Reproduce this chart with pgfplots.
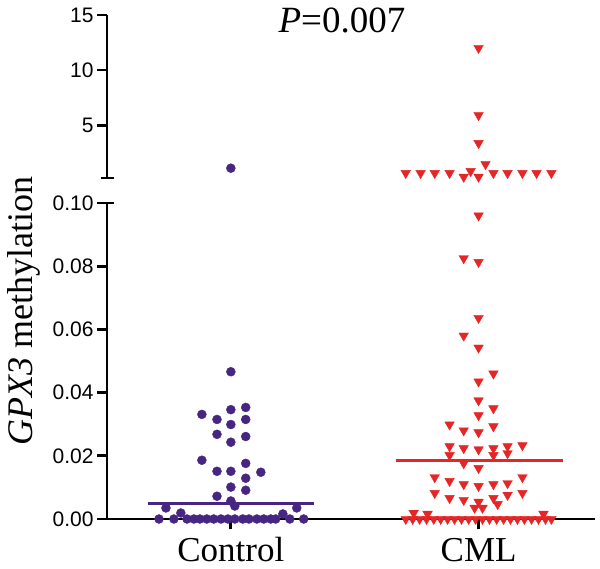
\documentclass[border=0pt]{standalone}
\usepackage{fontspec}
\setmainfont{Liberation Serif}
\newfontfamily\arial{Liberation Sans}
\usepackage{pgfplots}
\pgfplotsset{compat=1.18}
\definecolor{cpurple}{RGB}{70,38,130}
\definecolor{cred}{RGB}{228,38,38}
\pgfplotsset{brk/.style={
  scale only axis, width=488pt, xmin=0.5, xmax=2.47, clip=false,
  axis line style={draw=none},
  tick style={line width=2.8pt, black},
  major tick length=10pt,
  tick align=outside, ytick pos=left, xtick pos=bottom,
  minor tick num=0,
  yticklabel style={font=\arial\fontsize{21}{24}\selectfont, anchor=east},
  /pgf/number format/assume math mode=true,
  scaled y ticks=false,
}}
\pgfplotstableread{
x y
0.710 0
0.770 0
0.823 0
0.851 0
0.875 0
0.903 0
0.931 0
0.960 0
0.988 0
1.016 0
1.048 0
1.073 0
1.105 0
1.133 0
1.161 0
1.181 0
1.238 0
1.294 0
0.883 0.0331
0.944 0.0315
1.000 0.0346
1.060 0.0353
1.000 0.0299
1.060 0.0315
0.944 0.0268
1.060 0.0261
1.000 0.0243
0.883 0.0186
0.944 0.0151
1.000 0.0151
1.060 0.0176
1.121 0.0148
1.060 0.0129
1.000 0.0101
1.060 0.0091
0.944 0.0072
1.000 0.0057
1.016 0.0041
0.738 0.0035
1.266 0.0035
0.798 0.0019
1.210 0.0016
1.000 0.0466
}\ctrllow
\pgfplotstableread{
x y
1.706 0
1.734 0
1.762 0
1.790 0
1.819 0
1.847 0
1.875 0
1.903 0
1.931 0
1.960 0
1.988 0
2.016 0
2.044 0
2.073 0
2.101 0
2.129 0
2.157 0
2.185 0
2.214 0
2.242 0
2.270 0
2.294 0
2.000 0.0960
1.940 0.0825
2.000 0.0813
2.000 0.0636
1.940 0.0580
2.000 0.0542
2.060 0.0460
2.000 0.0435
2.000 0.0375
2.060 0.0350
2.000 0.0328
1.883 0.0299
1.940 0.0280
2.000 0.0274
2.060 0.0293
1.883 0.0230
1.940 0.0224
2.000 0.0220
2.060 0.0224
2.117 0.0230
2.177 0.0233
1.883 0.0202
2.060 0.0202
2.117 0.0208
1.940 0.0176
2.000 0.0161
1.823 0.0132
1.883 0.0120
1.940 0.0110
2.000 0.0104
2.060 0.0110
2.117 0.0113
2.177 0.0132
1.823 0.0082
1.883 0.0066
1.940 0.0060
2.000 0.0054
2.060 0.0066
2.077 0.0047
2.117 0.0076
2.177 0.0082
1.984 0.0035
2.016 0.0035
1.738 0.0019
1.794 0.0016
2.262 0.0016
}\cmllow
\pgfplotstableread{
x y
1.000 1.09
}\ctrlhigh
\pgfplotstableread{
x y
2.000 12.0
2.000 5.9
2.000 3.36
2.028 1.45
1.968 0.82
1.706 0.64
1.766 0.64
1.823 0.64
1.883 0.64
2.060 0.64
2.117 0.64
2.177 0.64
2.234 0.64
2.294 0.64
1.940 0.30
2.000 0.30
}\cmlhigh
\begin{document}
\begin{tikzpicture}
\path[use as bounding box] (0pt,0pt) rectangle (600pt,568pt);
% lower segment
\begin{axis}[brk, at={(107pt,49pt)}, anchor=south west, height=316pt,
  ymin=0, ymax=0.10, ytick={0,0.02,0.04,0.06,0.08,0.10},
  yticklabel style={/pgf/number format/fixed, /pgf/number format/fixed zerofill, /pgf/number format/precision=2},
  xtick={1,2}, xticklabels={Control,CML},
  xticklabel style={font=\fontsize{35}{40}\selectfont, anchor=base, yshift=-32pt}]
\draw[line width=2.8pt, black] (rel axis cs:0,1) ++(7pt,0pt) -- (rel axis cs:0,1) -- (rel axis cs:0,0) -- (rel axis cs:1,0);
\pgfplotsinvokeforeach{0,0.02,0.04,0.06,0.08,0.10}{
  \draw[line width=2.8pt, black] (axis cs:0.5,#1) -- ++(-10pt,0pt);
}
\pgfplotsinvokeforeach{1,2}{
  \draw[line width=2.8pt, black] (axis cs:#1,0) -- ++(0pt,-10pt);
}
\addplot[cpurple, line width=3pt] coordinates {(0.665,0.005) (1.335,0.005)};
\addplot[cred, line width=3pt] coordinates {(1.665,0.0186) (2.339,0.0186)};
\addplot[only marks, mark=*, mark size=4.5pt, cpurple, mark options={fill=cpurple, draw=cpurple}] table[x=x,y=y] {\ctrllow};
\addplot[only marks, mark=triangle*, mark size=5.5pt, cred, mark options={rotate=180, fill=cred, draw=cred}] table[x=x,y=y] {\cmllow};
\end{axis}
% upper segment
\begin{axis}[brk, at={(107pt,390pt)}, anchor=south west, height=163pt,
  ymin=0.2, ymax=15, ytick={5,10,15}, xtick=\empty]
\draw[line width=2.8pt, black] (rel axis cs:0,1) -- (rel axis cs:0,0);
\draw[line width=2.8pt, black] (rel axis cs:0,0) ++(-6.5pt,0pt) -- ++(13pt,0pt);
\pgfplotsinvokeforeach{5,10,15}{
  \draw[line width=2.8pt, black] (axis cs:0.5,#1) -- ++(-10pt,0pt);
}
\addplot[only marks, mark=*, mark size=4.5pt, cpurple, mark options={fill=cpurple, draw=cpurple}] table[x=x,y=y] {\ctrlhigh};
\addplot[only marks, mark=triangle*, mark size=5.5pt, cred, mark options={rotate=180, fill=cred, draw=cred}] table[x=x,y=y] {\cmlhigh};
\end{axis}
\node[anchor=base, font=\fontsize{37}{42}\selectfont, inner sep=0pt] at (342pt,535pt) {\textit{P}=0.007};
\node[rotate=90, anchor=base, font=\fontsize{36}{42}\selectfont, inner sep=0pt] at (32pt,257pt) {\textit{GPX3} methylation};
\end{tikzpicture}
\end{document}
